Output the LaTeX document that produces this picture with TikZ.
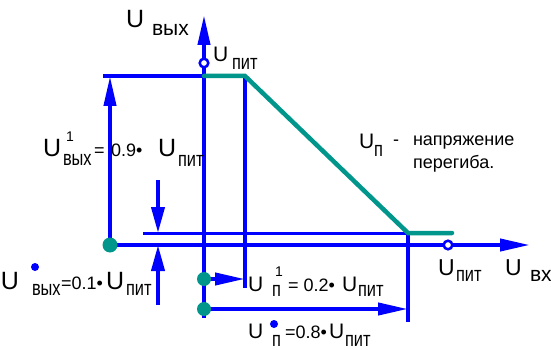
\documentclass[tikz,border=0pt]{standalone}
\usepackage{fontspec}
\setmainfont{Liberation Sans}
\usepackage{graphicx}
\usetikzlibrary{arrows.meta}
\definecolor{lblue}{RGB}{0,0,255}
\definecolor{lteal}{RGB}{0,150,140}
\newcommand\bigU[1]{{\fontsize{#1}{#1}\selectfont U}}
\newcommand\subt[1]{\scalebox{0.78}[1]{\fontsize{21}{21}\selectfont #1}}
\newcommand\dgt{\fontsize{18}{18}\selectfont}
\begin{document}
\begin{tikzpicture}[x=1pt,y=-1pt,
  ax/.style={draw=lblue,line width=4pt},
  thin/.style={draw=lblue,line width=3pt},
  tip/.style={-{Triangle[length=30pt,width=12pt]}},
  stip/.style={-{Triangle[length=26pt,width=13pt]}},
  curve/.style={draw=lteal,line width=4.5pt,line cap=round,line join=miter},
  gdot/.style={fill=lteal},
  bdot/.style={fill=lblue},
  odot/.style={draw=lblue,fill=white,line width=2.5pt},
  lbl/.style={anchor=base west,inner sep=0pt,outer sep=0pt,text=black}]
\useasboundingbox (0,0) rectangle (551,350);
% coordinates
\coordinate (yb) at (204,318);
\coordinate (yt) at (204,15);
\coordinate (ypit) at (204,63);
\coordinate (L1) at (103,76);
\coordinate (Y1) at (204,76);
\coordinate (K1) at (245,76);
\coordinate (K1b) at (245,288);
\coordinate (K2) at (408,233);
\coordinate (T2) at (452,233);
\coordinate (K2b) at (408,322);
\coordinate (A) at (110,245);
\coordinate (A1) at (110,76);
\coordinate (xe) at (530,245);
\coordinate (xpit) at (448,245);
\coordinate (L2) at (143,233);
\coordinate (d1) at (158,180);
\coordinate (d1e) at (158,233);
\coordinate (d2) at (158,305);
\coordinate (d2e) at (158,245);
\coordinate (B) at (204,279);
\coordinate (B1) at (245,279);
\coordinate (C) at (204,309);
\coordinate (C1) at (408,309);
% blue lines
\draw[ax] (L1) -- (Y1);
\draw[ax] (K1) -- (K1b);
\draw[ax] (K2) -- (K2b);
\draw[thin] (L2) -- (K2);
\draw[ax,tip] (yb) -- (yt);
\draw[ax,tip] (A) -- (xe);
\draw[ax,tip] (A) -- (A1);
\draw[ax,stip] (d1) -- (d1e);
\draw[ax,stip] (d2) -- (d2e);
\draw[ax,tip] (B) -- (B1);
\draw[ax,tip] (C) -- (C1);
% characteristic
\draw[curve] (Y1) -- (K1) -- (K2) -- (T2);
% dots
\fill[gdot] (A) circle (7.5pt);
\fill[gdot] (B) circle (7pt);
\fill[gdot] (C) circle (7pt);
\draw[odot] (ypit) circle (4.3pt);
\draw[odot] (xpit) circle (4.3pt);
% axis labels
\node[lbl] (tU) at (126,28) {\bigU{25}};
\node[lbl] (tvyx) at (152,36) {\fontsize{21}{21}\selectfont вых};
\node[lbl] (tU2) at (213,62) {\bigU{21}};
\node[lbl] (tpit2) at (232,70) {\subt{пит}};
\node[lbl] (tU8) at (438,275) {\bigU{23}};
\node[lbl] (tpit8) at (456,281) {\subt{пит}};
\node[lbl] (tU9) at (505,275) {\bigU{23}};
\node[lbl] (tvx) at (530,281) {\fontsize{21}{21}\selectfont вх};
% label 3
\node[lbl] (a1) at (43,157) {\bigU{25}};
\node[lbl] (a2) at (66,141) {\fontsize{14}{14}\selectfont 1};
\node[lbl] (a3) at (63,165) {\subt{вых}};
\node[lbl] (a4) at (94,157) {\dgt =};
\node[lbl] (a5) at (111,157) {\dgt 0.9•};
\node[lbl] (a6) at (158,157) {\bigU{25}};
\node[lbl] (a7) at (178,166) {\subt{пит}};
% label 4
\node[lbl] (b1) at (1,289) {\bigU{25}};
\fill[bdot] (35,267) circle (4pt);
\node[lbl] (b3) at (32,295) {\subt{вых}};
\node[lbl] (b4) at (61,289) {\dgt =0.1•};
\node[lbl] (b6) at (106,289) {\bigU{25}};
\node[lbl] (b7) at (126,295) {\subt{пит}};
% label 5
\node[lbl] (c1) at (248,291) {\bigU{21}};
\node[lbl] (c2) at (275,276) {\fontsize{14}{14}\selectfont 1};
\node[lbl] (c3) at (272,296) {\subt{п}};
\node[lbl] (c4) at (288,291) {\dgt = 0.2•};
\node[lbl] (c6) at (342,291) {\bigU{21}};
\node[lbl] (c7) at (358,296) {\subt{пит}};
% label 6
\node[lbl] (e1) at (248,338) {\bigU{21}};
\fill[bdot] (274,324) circle (4pt);
\node[lbl] (e3) at (272,346) {\subt{п}};
\node[lbl] (e4) at (285,338) {\dgt =0.8•};
\node[lbl] (e6) at (329,338) {\bigU{21}};
\node[lbl] (e7) at (345,346) {\subt{пит}};
% label 7
\node[lbl] (f1) at (359,148) {\bigU{21}};
\node[lbl] (f2) at (374,156) {\subt{п}};
\node[lbl] (f3) at (393,145) {\dgt -};
\node[lbl] (f4) at (413,145) {\dgt напряжение};
\node[lbl] (f5) at (413,168) {\dgt перегиба.};
\end{tikzpicture}
\end{document}
